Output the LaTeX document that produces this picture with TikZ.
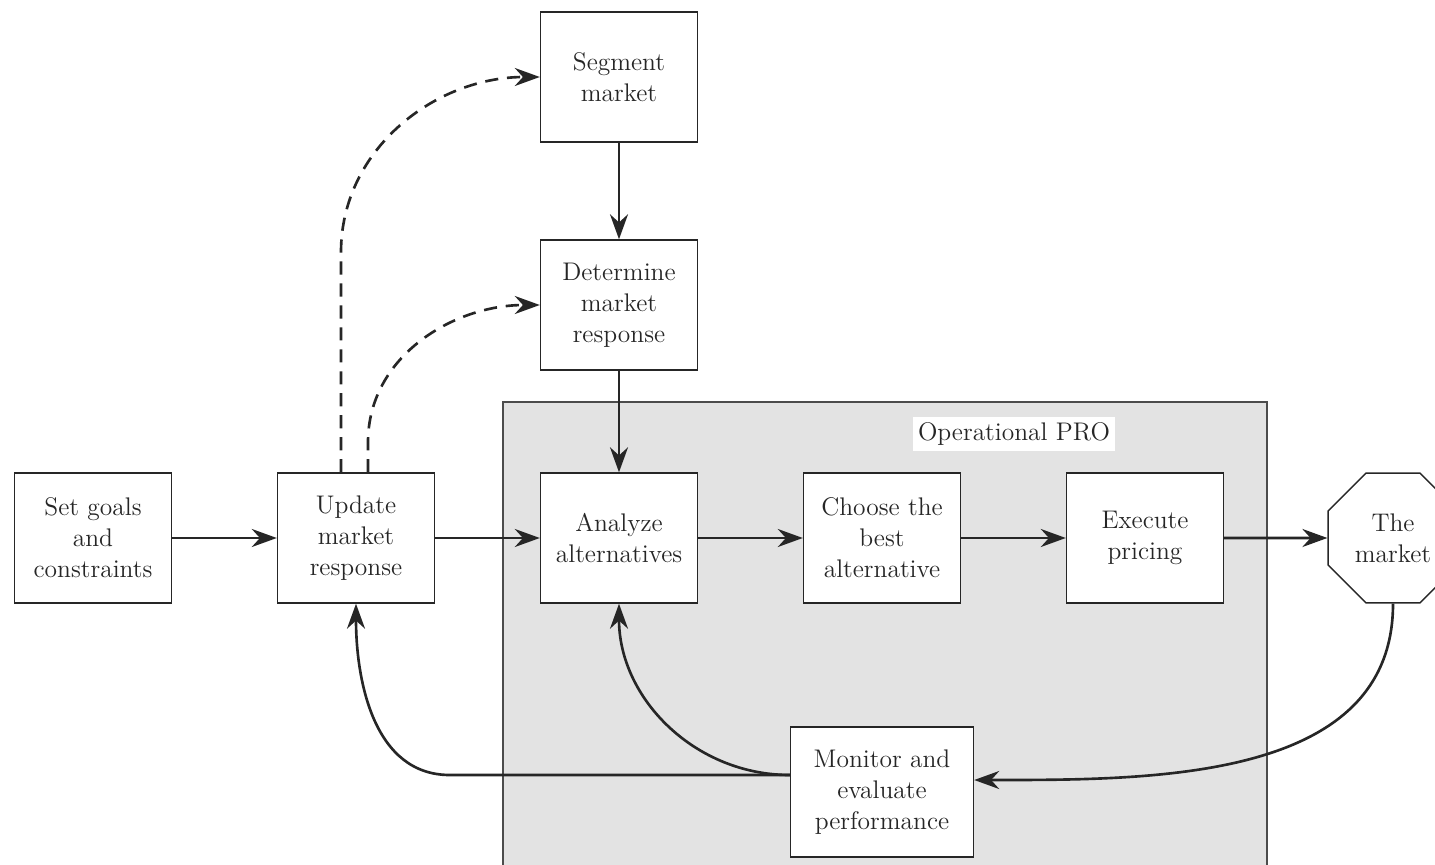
\documentclass[tikz,border=0pt]{standalone}
\usepackage{tikz}
\usetikzlibrary{positioning, shapes.geometric, arrows.meta}

\begin{document}
\begin{tikzpicture}[
        node distance=5.26cm,
        box/.style={rectangle, draw=black!85, line width=0.8pt, fill=white, text=black!85, align=center, minimum width=3.14cm, minimum height=2.6cm, inner sep=2pt, font=\fontsize{14.5}{17.6}\selectfont},
        octbox/.style={regular polygon, regular polygon sides=8, draw=black!85, line width=0.8pt, fill=white, text=black!85, align=center, minimum size=2.81cm, inner sep=0pt, font=\fontsize{14.5}{17.6}\selectfont},
        arrow/.style={->, >={Stealth[length=5mm, width=3.6mm]}, line width=1.5pt, draw=black!85},
        dasharrow/.style={arrow, dash pattern=on 7.5pt off 5pt}
    ]
        \useasboundingbox (0,0) rectangle (28.7,17.28);

        % shaded operational part
        \draw[black!70, fill=black!11, line width=0.7pt] (10.06,-0.5) rectangle (25.34,9.24);
        \node[fill=white, text=black!85, inner sep=3pt, font=\fontsize{14.5}{17.6}\selectfont] (oplabel) at (20.28,8.6) {Operational PRO};

        \node[box] (setgoals) at (1.86,6.52) {Set goals\\and\\constraints};
        \node[box, right of=setgoals] (update) {Update\\market\\response};
        \node[box, right of=update] (analyze) {Analyze\\alternatives};
        \node[box, right of=analyze] (choose) {Choose the\\best\\alternative};
        \node[box, right of=choose] (execute) {Execute\\pricing};
        \node[octbox, right of=execute, node distance=4.96cm] (market) {The\\market};
        \node[box, above of=analyze, node distance=4.66cm] (determine) {Determine\\market\\response};
        \node[box, above of=determine, node distance=4.56cm] (segment) {Segment\\market};
        \node[box, below of=choose, node distance=5.08cm, minimum width=3.66cm] (monitor) {Monitor and\\evaluate\\performance};

        \draw[arrow] (setgoals) -- (update);
        \draw[arrow] (update) -- (analyze);
        \draw[arrow] (analyze) -- (choose);
        \draw[arrow] (choose) -- (execute);
        \draw[arrow] (execute) -- (market);
        \draw[arrow] (segment) -- (determine);
        \draw[arrow] (determine) -- (analyze);

        \draw[dasharrow] ([xshift=-0.3cm]update.north) -- ++(0,4.4) to[out=90, in=180] (segment.west);
        \draw[dasharrow] ([xshift=0.24cm]update.north) -- ++(0,0.6) to[out=90, in=180] (determine.west);

        \draw[arrow] (market.south) to[out=-90, in=0] ([yshift=0.24cm]monitor.east);
        \draw[arrow] ([yshift=0.34cm]monitor.west) to[out=180, in=-90] (analyze.south);
        \draw[arrow] ([yshift=0.34cm]monitor.west) -- ++(-6.8,0) to[out=180, in=-90] (update.south);
\end{tikzpicture}
\end{document}
